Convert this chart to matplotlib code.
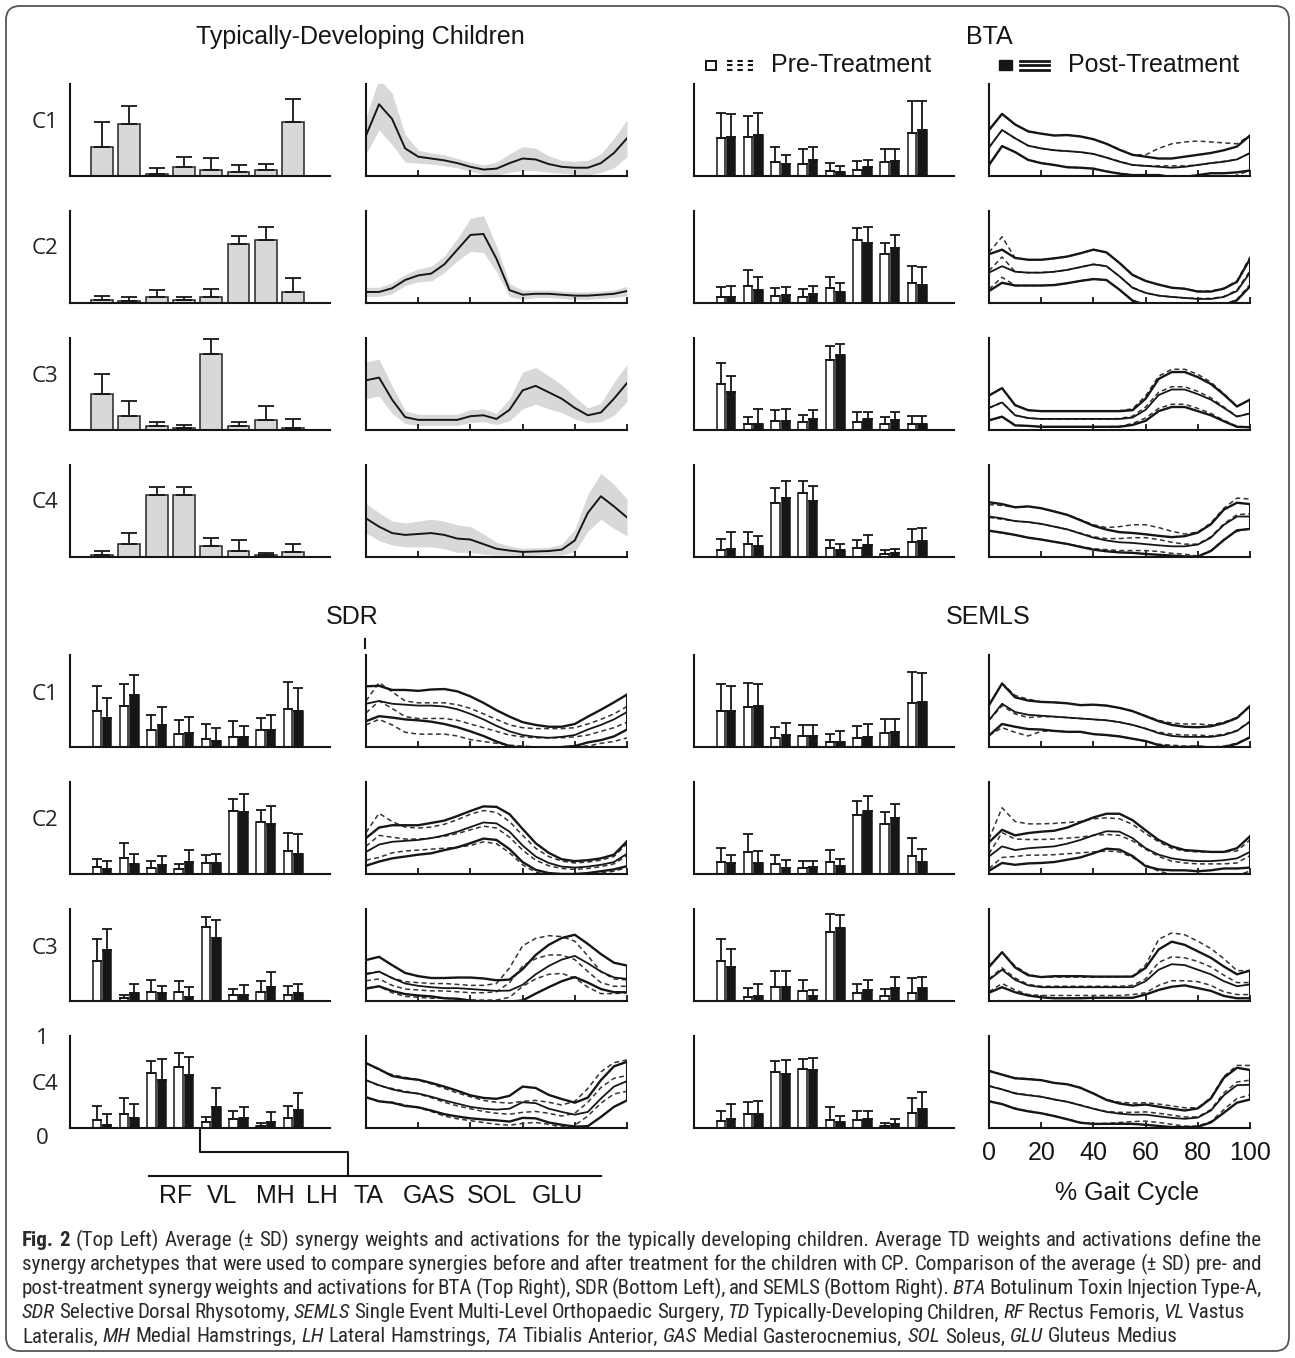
import numpy as np
import matplotlib.pyplot as plt
from matplotlib import font_manager
from matplotlib.patches import FancyBboxPatch, Rectangle

# ---------------- data ----------------
muscles = ['RF', 'VL', 'MH', 'LH', 'TA', 'GAS', 'SOL', 'GLU']
synergies = ['C1', 'C2', 'C3', 'C4']
gait_pct = [0, 5, 10, 15, 20, 25, 30, 35, 40, 45, 50,
            55, 60, 65, 70, 75, 80, 85, 90, 95, 100]

# synergy weights (mean, SD) per synergy C1..C4, muscles RF..GLU
td_w = [[0.32, 0.56, 0.02, 0.10, 0.07, 0.04, 0.06, 0.59],
        [0.03, 0.02, 0.065, 0.03, 0.07, 0.64, 0.68, 0.12],
        [0.39, 0.15, 0.04, 0.02, 0.83, 0.04, 0.11, 0.025],
        [0.02, 0.14, 0.67, 0.67, 0.12, 0.066, 0.02, 0.05]]
td_w_sd = [[0.27, 0.20, 0.07, 0.11, 0.13, 0.08, 0.07, 0.25],
           [0.05, 0.05, 0.075, 0.04, 0.08, 0.09, 0.15, 0.15],
           [0.22, 0.17, 0.05, 0.035, 0.16, 0.05, 0.15, 0.095],
           [0.046, 0.12, 0.09, 0.09, 0.09, 0.114, 0.024, 0.09]]

bta_w_pre = [[0.41, 0.42, 0.155, 0.13, 0.058, 0.07, 0.155, 0.47],
             [0.06, 0.18, 0.077, 0.06, 0.165, 0.69, 0.53, 0.22],
             [0.50, 0.06, 0.095, 0.087, 0.76, 0.084, 0.07, 0.065],
             [0.08, 0.145, 0.59, 0.70, 0.095, 0.10, 0.036, 0.16]]
bta_w_pre_sd = [[0.28, 0.23, 0.155, 0.16, 0.082, 0.09, 0.135, 0.35],
                [0.11, 0.18, 0.088, 0.09, 0.115, 0.13, 0.12, 0.18],
                [0.23, 0.085, 0.125, 0.073, 0.15, 0.116, 0.075, 0.085],
                [0.12, 0.125, 0.155, 0.13, 0.095, 0.08, 0.044, 0.14]]
bta_w_post = [[0.42, 0.45, 0.126, 0.17, 0.04, 0.094, 0.16, 0.50],
              [0.066, 0.14, 0.088, 0.10, 0.12, 0.65, 0.60, 0.195],
              [0.41, 0.07, 0.10, 0.116, 0.81, 0.116, 0.105, 0.07],
              [0.087, 0.116, 0.64, 0.61, 0.08, 0.13, 0.044, 0.17]]
bta_w_post_sd = [[0.25, 0.23, 0.104, 0.15, 0.07, 0.076, 0.13, 0.32],
                 [0.114, 0.14, 0.082, 0.09, 0.10, 0.18, 0.14, 0.195],
                 [0.18, 0.155, 0.125, 0.104, 0.13, 0.084, 0.095, 0.08],
                 [0.183, 0.109, 0.19, 0.16, 0.065, 0.11, 0.043, 0.15]]

sdr_w_pre = [[0.39, 0.45, 0.18, 0.14, 0.09, 0.114, 0.18, 0.41],
             [0.076, 0.17, 0.065, 0.054, 0.12, 0.68, 0.57, 0.25],
             [0.44, 0.03, 0.10, 0.10, 0.80, 0.06, 0.10, 0.06],
             [0.084, 0.156, 0.60, 0.658, 0.062, 0.095, 0.025, 0.11]]
sdr_w_pre_sd = [[0.27, 0.24, 0.17, 0.15, 0.16, 0.172, 0.14, 0.30],
                [0.084, 0.17, 0.075, 0.051, 0.09, 0.14, 0.13, 0.20],
                [0.23, 0.036, 0.13, 0.12, 0.11, 0.07, 0.116, 0.105],
                [0.152, 0.171, 0.127, 0.162, 0.058, 0.09, 0.033, 0.126]]
sdr_w_post = [[0.32, 0.57, 0.24, 0.157, 0.06, 0.114, 0.19, 0.39],
              [0.058, 0.11, 0.10, 0.13, 0.12, 0.675, 0.54, 0.22],
              [0.55, 0.09, 0.09, 0.048, 0.685, 0.066, 0.157, 0.084],
              [0.036, 0.11, 0.527, 0.58, 0.225, 0.11, 0.065, 0.20]]
sdr_w_post_sd = [[0.21, 0.21, 0.20, 0.168, 0.15, 0.116, 0.16, 0.25],
                 [0.082, 0.11, 0.10, 0.13, 0.10, 0.195, 0.20, 0.21],
                 [0.23, 0.10, 0.075, 0.109, 0.195, 0.11, 0.153, 0.103],
                 [0.12, 0.15, 0.223, 0.19, 0.215, 0.12, 0.11, 0.18]]

semls_w_pre = [[0.39, 0.44, 0.10, 0.12, 0.054, 0.10, 0.157, 0.48],
               [0.126, 0.24, 0.105, 0.07, 0.134, 0.646, 0.54, 0.195],
               [0.43, 0.044, 0.153, 0.113, 0.755, 0.09, 0.058, 0.088],
               [0.076, 0.153, 0.61, 0.64, 0.084, 0.084, 0.025, 0.164]]
semls_w_pre_sd = [[0.30, 0.26, 0.12, 0.12, 0.086, 0.13, 0.143, 0.33],
                  [0.154, 0.19, 0.105, 0.07, 0.126, 0.144, 0.135, 0.195],
                  [0.24, 0.096, 0.172, 0.117, 0.195, 0.09, 0.072, 0.157],
                  [0.114, 0.127, 0.117, 0.11, 0.146, 0.101, 0.033, 0.163]]
semls_w_post = [[0.39, 0.45, 0.13, 0.118, 0.054, 0.114, 0.168, 0.486],
                [0.116, 0.12, 0.07, 0.076, 0.09, 0.69, 0.61, 0.134],
                [0.37, 0.058, 0.15, 0.055, 0.79, 0.12, 0.142, 0.14],
                [0.10, 0.153, 0.59, 0.63, 0.062, 0.10, 0.044, 0.21]]
semls_w_post_sd = [[0.27, 0.24, 0.13, 0.122, 0.116, 0.136, 0.132, 0.314],
                   [0.094, 0.13, 0.08, 0.064, 0.07, 0.155, 0.155, 0.136],
                   [0.19, 0.122, 0.175, 0.069, 0.14, 0.11, 0.118, 0.12],
                   [0.16, 0.142, 0.15, 0.13, 0.065, 0.09, 0.056, 0.18]]

# activation profiles (mean, SD) over the gait cycle
td_act = [[0.44, 0.78, 0.62, 0.30, 0.21, 0.19, 0.17, 0.14, 0.10, 0.07, 0.08, 0.14, 0.19, 0.18, 0.13, 0.10, 0.09, 0.09, 0.14, 0.25, 0.41],
          [0.12, 0.12, 0.16, 0.25, 0.30, 0.32, 0.42, 0.58, 0.74, 0.75, 0.48, 0.14, 0.09, 0.10, 0.10, 0.09, 0.08, 0.08, 0.09, 0.10, 0.13],
          [0.54, 0.57, 0.33, 0.14, 0.11, 0.11, 0.11, 0.11, 0.15, 0.16, 0.12, 0.22, 0.43, 0.48, 0.41, 0.34, 0.24, 0.16, 0.19, 0.34, 0.51],
          [0.42, 0.33, 0.26, 0.24, 0.25, 0.26, 0.24, 0.20, 0.19, 0.14, 0.09, 0.07, 0.055, 0.06, 0.065, 0.08, 0.18, 0.48, 0.66, 0.55, 0.43]]
td_act_sd = [[0.20, 0.28, 0.28, 0.15, 0.07, 0.06, 0.06, 0.05, 0.05, 0.05, 0.07, 0.10, 0.13, 0.12, 0.09, 0.07, 0.07, 0.08, 0.10, 0.16, 0.20],
             [0.05, 0.05, 0.06, 0.06, 0.07, 0.08, 0.09, 0.12, 0.18, 0.20, 0.14, 0.07, 0.05, 0.04, 0.04, 0.04, 0.04, 0.04, 0.04, 0.04, 0.05],
             [0.20, 0.20, 0.15, 0.07, 0.06, 0.06, 0.06, 0.06, 0.07, 0.07, 0.06, 0.12, 0.20, 0.20, 0.18, 0.15, 0.12, 0.08, 0.10, 0.18, 0.20],
             [0.16, 0.15, 0.13, 0.13, 0.14, 0.15, 0.15, 0.15, 0.14, 0.11, 0.07, 0.05, 0.04, 0.04, 0.04, 0.06, 0.12, 0.20, 0.25, 0.24, 0.20]]

bta_act_pre = [[0.31, 0.50, 0.41, 0.33, 0.30, 0.28, 0.27, 0.26, 0.24, 0.20, 0.16, 0.12, 0.11, 0.11, 0.11, 0.11, 0.12, 0.14, 0.16, 0.18, 0.25],
               [0.35, 0.50, 0.34, 0.33, 0.33, 0.34, 0.36, 0.39, 0.42, 0.40, 0.29, 0.17, 0.11, 0.08, 0.066, 0.055, 0.05, 0.05, 0.07, 0.14, 0.35],
               [0.24, 0.30, 0.16, 0.13, 0.12, 0.12, 0.12, 0.12, 0.12, 0.12, 0.125, 0.15, 0.25, 0.41, 0.47, 0.47, 0.42, 0.35, 0.25, 0.15, 0.18],
               [0.43, 0.41, 0.39, 0.38, 0.36, 0.33, 0.30, 0.26, 0.22, 0.20, 0.20, 0.21, 0.21, 0.19, 0.16, 0.14, 0.14, 0.22, 0.36, 0.46, 0.47]]
bta_act_pre_sd = [[0.19, 0.175, 0.15, 0.155, 0.16, 0.16, 0.175, 0.17, 0.16, 0.15, 0.13, 0.11, 0.12, 0.19, 0.24, 0.26, 0.26, 0.23, 0.20, 0.17, 0.19],
                  [0.20, 0.22, 0.15, 0.14, 0.14, 0.145, 0.145, 0.15, 0.16, 0.15, 0.145, 0.14, 0.13, 0.12, 0.10, 0.10, 0.08, 0.08, 0.09, 0.10, 0.15],
                  [0.135, 0.155, 0.11, 0.085, 0.085, 0.085, 0.085, 0.085, 0.085, 0.085, 0.085, 0.08, 0.12, 0.175, 0.19, 0.19, 0.185, 0.17, 0.145, 0.11, 0.15],
                  [0.14, 0.15, 0.15, 0.17, 0.17, 0.165, 0.158, 0.145, 0.13, 0.12, 0.13, 0.14, 0.14, 0.13, 0.12, 0.11, 0.13, 0.15, 0.17, 0.18, 0.16]]
bta_act_post = [[0.31, 0.50, 0.41, 0.33, 0.30, 0.28, 0.27, 0.26, 0.24, 0.20, 0.155, 0.12, 0.11, 0.10, 0.09, 0.10, 0.12, 0.14, 0.155, 0.18, 0.25],
                [0.33, 0.40, 0.34, 0.33, 0.33, 0.34, 0.36, 0.39, 0.42, 0.40, 0.29, 0.165, 0.11, 0.08, 0.066, 0.055, 0.044, 0.044, 0.066, 0.13, 0.33],
                [0.24, 0.30, 0.16, 0.13, 0.12, 0.12, 0.12, 0.12, 0.12, 0.12, 0.12, 0.135, 0.22, 0.38, 0.44, 0.44, 0.39, 0.33, 0.24, 0.145, 0.18],
                [0.44, 0.42, 0.39, 0.38, 0.36, 0.33, 0.30, 0.255, 0.21, 0.18, 0.16, 0.153, 0.14, 0.127, 0.116, 0.116, 0.135, 0.21, 0.35, 0.44, 0.44]]
bta_act_post_sd = [[0.19, 0.175, 0.15, 0.155, 0.16, 0.16, 0.175, 0.17, 0.16, 0.15, 0.13, 0.11, 0.10, 0.09, 0.10, 0.11, 0.11, 0.11, 0.125, 0.14, 0.19],
                   [0.20, 0.18, 0.15, 0.14, 0.14, 0.145, 0.145, 0.15, 0.16, 0.15, 0.145, 0.14, 0.13, 0.12, 0.10, 0.10, 0.08, 0.08, 0.09, 0.10, 0.15],
                   [0.135, 0.155, 0.11, 0.085, 0.085, 0.085, 0.085, 0.085, 0.085, 0.085, 0.085, 0.08, 0.12, 0.175, 0.19, 0.19, 0.185, 0.17, 0.145, 0.11, 0.15],
                   [0.155, 0.155, 0.15, 0.17, 0.17, 0.165, 0.158, 0.145, 0.13, 0.118, 0.11, 0.108, 0.107, 0.103, 0.10, 0.11, 0.13, 0.145, 0.165, 0.15, 0.135]]

sdr_act_pre = [[0.37, 0.50, 0.42, 0.33, 0.31, 0.31, 0.31, 0.29, 0.25, 0.21, 0.17, 0.13, 0.11, 0.10, 0.10, 0.10, 0.11, 0.13, 0.17, 0.21, 0.27],
               [0.30, 0.42, 0.40, 0.38, 0.38, 0.39, 0.41, 0.44, 0.48, 0.52, 0.50, 0.40, 0.26, 0.15, 0.09, 0.06, 0.05, 0.06, 0.08, 0.11, 0.20],
               [0.22, 0.24, 0.17, 0.13, 0.12, 0.11, 0.11, 0.10, 0.09, 0.09, 0.10, 0.20, 0.38, 0.46, 0.50, 0.50, 0.45, 0.32, 0.20, 0.16, 0.16],
               [0.52, 0.46, 0.43, 0.40, 0.37, 0.33, 0.28, 0.24, 0.21, 0.18, 0.16, 0.15, 0.17, 0.18, 0.16, 0.13, 0.16, 0.28, 0.44, 0.54, 0.57]]
sdr_act_pre_sd = [[0.13, 0.20, 0.18, 0.17, 0.17, 0.17, 0.17, 0.17, 0.17, 0.15, 0.13, 0.11, 0.10, 0.10, 0.10, 0.10, 0.10, 0.12, 0.13, 0.15, 0.17],
                  [0.15, 0.24, 0.17, 0.13, 0.12, 0.12, 0.13, 0.15, 0.17, 0.17, 0.17, 0.17, 0.16, 0.13, 0.10, 0.08, 0.07, 0.07, 0.07, 0.08, 0.13],
                  [0.08, 0.08, 0.08, 0.08, 0.08, 0.08, 0.08, 0.08, 0.08, 0.08, 0.09, 0.16, 0.22, 0.22, 0.21, 0.20, 0.20, 0.17, 0.12, 0.08, 0.07],
                  [0.19, 0.17, 0.15, 0.15, 0.15, 0.15, 0.15, 0.14, 0.13, 0.12, 0.12, 0.12, 0.12, 0.12, 0.12, 0.12, 0.13, 0.15, 0.17, 0.17, 0.17]]
sdr_act_post = [[0.47, 0.50, 0.47, 0.46, 0.45, 0.45, 0.44, 0.41, 0.36, 0.30, 0.23, 0.17, 0.13, 0.11, 0.10, 0.11, 0.13, 0.19, 0.24, 0.30, 0.38],
                [0.24, 0.32, 0.35, 0.36, 0.37, 0.39, 0.42, 0.46, 0.51, 0.56, 0.55, 0.46, 0.31, 0.19, 0.12, 0.08, 0.07, 0.08, 0.10, 0.13, 0.22],
                [0.29, 0.32, 0.25, 0.19, 0.165, 0.15, 0.14, 0.14, 0.13, 0.12, 0.11, 0.113, 0.176, 0.29, 0.38, 0.45, 0.49, 0.41, 0.32, 0.256, 0.24],
                [0.52, 0.465, 0.42, 0.39, 0.375, 0.34, 0.30, 0.265, 0.23, 0.21, 0.20, 0.21, 0.28, 0.27, 0.21, 0.175, 0.145, 0.175, 0.32, 0.45, 0.51]]
sdr_act_post_sd = [[0.19, 0.165, 0.15, 0.16, 0.16, 0.175, 0.19, 0.195, 0.19, 0.18, 0.17, 0.16, 0.14, 0.13, 0.12, 0.11, 0.12, 0.14, 0.165, 0.185, 0.19],
                   [0.15, 0.185, 0.18, 0.17, 0.16, 0.165, 0.16, 0.17, 0.175, 0.175, 0.18, 0.19, 0.18, 0.145, 0.11, 0.08, 0.07, 0.07, 0.07, 0.08, 0.135],
                   [0.155, 0.16, 0.14, 0.115, 0.105, 0.10, 0.11, 0.115, 0.125, 0.125, 0.115, 0.12, 0.17, 0.21, 0.23, 0.235, 0.23, 0.21, 0.19, 0.16, 0.145],
                   [0.185, 0.175, 0.145, 0.15, 0.15, 0.15, 0.15, 0.14, 0.125, 0.117, 0.117, 0.14, 0.17, 0.165, 0.15, 0.14, 0.13, 0.155, 0.20, 0.22, 0.21]]

semls_act_pre = [[0.29, 0.45, 0.36, 0.32, 0.33, 0.33, 0.32, 0.31, 0.30, 0.29, 0.27, 0.24, 0.20, 0.16, 0.14, 0.13, 0.13, 0.12, 0.14, 0.18, 0.28],
                 [0.22, 0.45, 0.38, 0.375, 0.375, 0.38, 0.39, 0.40, 0.42, 0.43, 0.42, 0.36, 0.27, 0.19, 0.14, 0.12, 0.11, 0.11, 0.11, 0.12, 0.20],
                 [0.24, 0.36, 0.25, 0.18, 0.16, 0.16, 0.16, 0.16, 0.16, 0.16, 0.16, 0.17, 0.24, 0.42, 0.48, 0.47, 0.43, 0.37, 0.28, 0.20, 0.20],
                 [0.46, 0.42, 0.38, 0.36, 0.34, 0.31, 0.285, 0.25, 0.21, 0.18, 0.17, 0.17, 0.175, 0.16, 0.14, 0.12, 0.12, 0.20, 0.38, 0.50, 0.52]]
semls_act_pre_sd = [[0.165, 0.24, 0.20, 0.20, 0.16, 0.155, 0.155, 0.145, 0.16, 0.16, 0.155, 0.15, 0.14, 0.13, 0.12, 0.12, 0.12, 0.12, 0.13, 0.14, 0.17],
                    [0.16, 0.27, 0.19, 0.17, 0.17, 0.17, 0.17, 0.17, 0.18, 0.18, 0.18, 0.18, 0.17, 0.16, 0.14, 0.13, 0.13, 0.13, 0.13, 0.13, 0.17],
                    [0.14, 0.17, 0.13, 0.11, 0.10, 0.10, 0.10, 0.10, 0.10, 0.10, 0.10, 0.10, 0.15, 0.25, 0.26, 0.25, 0.22, 0.20, 0.18, 0.13, 0.13],
                    [0.165, 0.16, 0.165, 0.175, 0.18, 0.18, 0.19, 0.19, 0.165, 0.13, 0.11, 0.10, 0.10, 0.10, 0.10, 0.10, 0.10, 0.13, 0.18, 0.18, 0.16]]
semls_act_post = [[0.29, 0.47, 0.38, 0.35, 0.34, 0.33, 0.32, 0.31, 0.30, 0.29, 0.27, 0.24, 0.20, 0.15, 0.12, 0.11, 0.11, 0.11, 0.13, 0.175, 0.275],
                  [0.19, 0.30, 0.26, 0.28, 0.29, 0.30, 0.33, 0.37, 0.42, 0.465, 0.46, 0.39, 0.28, 0.21, 0.17, 0.15, 0.14, 0.14, 0.15, 0.17, 0.24],
                  [0.23, 0.34, 0.23, 0.17, 0.15, 0.15, 0.15, 0.15, 0.15, 0.15, 0.15, 0.15, 0.215, 0.34, 0.40, 0.39, 0.34, 0.29, 0.215, 0.16, 0.18],
                  [0.455, 0.42, 0.375, 0.356, 0.34, 0.31, 0.285, 0.247, 0.21, 0.175, 0.156, 0.145, 0.145, 0.127, 0.11, 0.10, 0.113, 0.19, 0.356, 0.465, 0.47]]
semls_act_post_sd = [[0.165, 0.22, 0.16, 0.155, 0.15, 0.155, 0.155, 0.145, 0.16, 0.16, 0.155, 0.15, 0.135, 0.13, 0.12, 0.11, 0.105, 0.115, 0.13, 0.14, 0.17],
                     [0.155, 0.18, 0.16, 0.165, 0.17, 0.17, 0.175, 0.19, 0.195, 0.19, 0.195, 0.195, 0.195, 0.16, 0.13, 0.11, 0.11, 0.10, 0.09, 0.11, 0.17],
                     [0.14, 0.19, 0.135, 0.11, 0.11, 0.12, 0.12, 0.12, 0.115, 0.115, 0.115, 0.115, 0.145, 0.22, 0.245, 0.22, 0.20, 0.18, 0.16, 0.13, 0.15],
                     [0.165, 0.16, 0.165, 0.175, 0.18, 0.18, 0.19, 0.19, 0.165, 0.13, 0.11, 0.10, 0.11, 0.105, 0.10, 0.09, 0.10, 0.13, 0.19, 0.19, 0.16]]

# ---------------- figure ----------------
W, H = 1295, 1358
fig = plt.figure(figsize=(W / 100, H / 100), dpi=100)
INK = '#161616'
SANS = 'Liberation Sans'
ROWFONT = ['Open Sans', 'DejaVu Sans']
bar_x = np.arange(1, len(muscles) + 1)


def px_axes(x0, x1, y_bot, h=92):
    ax = fig.add_axes([x0 / W, 1 - y_bot / H, (x1 - x0) / W, h / H])
    ax.patch.set_alpha(0)
    for s in ['top', 'right']:
        ax.spines[s].set_visible(False)
    for s in ['left', 'bottom']:
        ax.spines[s].set_linewidth(1.5)
        ax.spines[s].set_color(INK)
    ax.set_ylim(0, 1)
    ax.set_yticks([])
    return ax


def weights_td(ax, w, sd):
    ax.bar(bar_x, w, width=0.8, color='#d8d8d8', edgecolor='#262626', linewidth=1.1)
    ax.errorbar(bar_x, w, yerr=[np.zeros(len(w)), sd], fmt='none', ecolor=INK,
                elinewidth=1.3, capsize=6, capthick=1.3)


def weights_cp(ax, pre, pre_sd, post, post_sd):
    for off, m, s, fc in [(-0.19, pre, pre_sd, 'white'), (0.19, post, post_sd, INK)]:
        ax.bar(bar_x + off, m, width=0.31, color=fc, edgecolor=INK, linewidth=1.1)
        ax.errorbar(bar_x + off, m, yerr=[np.zeros(len(m)), s], fmt='none', ecolor=INK,
                    elinewidth=1.3, capsize=3.6, capthick=1.3)


def act_td(ax, m, s):
    m, s = np.array(m), np.array(s)
    ax.fill_between(gait_pct, m - s, m + s, color='#d8d8d8', lw=0)
    ax.plot(gait_pct, m, color=INK, lw=1.4)


def act_cp(ax, pre, pre_sd, post, post_sd):
    pre, pre_sd = np.array(pre), np.array(pre_sd)
    post, post_sd = np.array(post), np.array(post_sd)
    for band in (pre - pre_sd, pre, pre + pre_sd):
        ax.plot(gait_pct, band, color='#333333', lw=1.1, ls=(0, (3.2, 2.2)))
    ax.plot(gait_pct, post, color=INK, lw=1.3)
    ax.plot(gait_pct, post + post_sd, color=INK, lw=1.7)
    ax.plot(gait_pct, post - post_sd, color=INK, lw=1.7)
    ax.plot([gait_pct[-1]] * 2, [post[-1] - post_sd[-1], post[-1] + post_sd[-1]],
            color=INK, lw=1.5)


groups = [
    ('td', 70, 330, 366, 627, [176, 303, 430, 557]),
    ('bta', 694, 954, 989, 1250, [176, 303, 430, 557]),
    ('sdr', 70, 330, 366, 627, [747, 874, 1001, 1128]),
    ('semls', 694, 954, 989, 1250, [747, 874, 1001, 1128]),
]
data = globals()

for name, bx0, bx1, cx0, cx1, rows in groups:
    for k, yb in enumerate(rows):
        axb = px_axes(bx0, bx1, yb)
        axb.set_xlim(-0.17, 9.35)
        axb.set_xticks([])
        axc = px_axes(cx0, cx1, yb)
        axc.set_xlim(0, 100)
        axc.set_xticks(range(0, 101, 20))
        axc.tick_params(axis='x', direction='in', length=4, width=1.3, color=INK,
                        labelbottom=False)
        if name == 'td':
            weights_td(axb, td_w[k], td_w_sd[k])
            act_td(axc, td_act[k], td_act_sd[k])
        else:
            weights_cp(axb, data[name + '_w_pre'][k], data[name + '_w_pre_sd'][k],
                       data[name + '_w_post'][k], data[name + '_w_post_sd'][k])
            act_cp(axc, data[name + '_act_pre'][k], data[name + '_act_pre_sd'][k],
                   data[name + '_act_post'][k], data[name + '_act_post_sd'][k])
        if name == 'semls' and k == 3:
            axc.tick_params(axis='x', labelbottom=True, labelsize=18, pad=9,
                            labelcolor=INK, labelfontfamily=SANS)

# ---------------- annotations in pixel space ----------------
ov = fig.add_axes([0, 0, 1, 1])
ov.set_xlim(0, W)
ov.set_ylim(H, 0)
ov.axis('off')

ov.add_patch(FancyBboxPatch((6, 6), W - 12, H - 13,
                            boxstyle='round,pad=0,rounding_size=14',
                            fc='none', ec='#555555', lw=1.3))

txt = dict(color=INK, family=SANS, fontsize=18, va='center')
ov.text(360, 37, 'Typically-Developing Children', ha='center', **txt)
ov.text(989, 37, 'BTA', ha='center', **txt)
ov.text(352, 617, 'SDR', ha='center', **txt)
ov.text(988, 617, 'SEMLS', ha='center', **txt)
ov.text(771, 65, 'Pre-Treatment', ha='left', **txt)
ov.text(1068, 65, 'Post-Treatment', ha='left', **txt)
ov.text(1127, 1193, '% Gait Cycle', ha='center', **txt)

# legend glyphs
ov.add_patch(Rectangle((706, 61), 10, 9, fc='white', ec=INK, lw=1.4))
ov.add_patch(Rectangle((999, 60), 13, 10, fc=INK, ec=INK, lw=1))
for yy in (60.5, 65, 69.5):
    ov.plot([727, 753], [yy, yy], color=INK, lw=1.5, ls=(0, (2.6, 2.4)))
    ov.plot([1020, 1049], [yy, yy], color=INK, lw=2.0)

# synergy row labels
for rows, offs in [([176, 303, 430, 557], [-54] * 4), ([747, 874, 1001, 1128], [-53, -53, -53, -44])]:
    for lab, yb, o in zip(synergies, rows, offs):
        ov.text(45, yb + o, lab, ha='center', va='center', fontsize=16,
                color='#222222', family=ROWFONT)
ov.text(42, 1038, '1', ha='center', va='center', fontsize=16, color='#222222', family=ROWFONT)
ov.text(42, 1138, '0', ha='center', va='center', fontsize=16, color='#222222', family=ROWFONT)

# muscle key bracket
ov.plot([200, 200, 348, 348], [1130, 1152, 1152, 1176], color=INK, lw=1.5)
ov.plot([149, 601], [1176, 1176], color=INK, lw=1.5)
for lab, xc in zip(muscles, [176, 222, 275, 322, 368, 429, 492, 557]):
    ov.text(xc, 1196, lab, ha='center', **txt)
ov.plot([365, 365], [639, 648], color=INK, lw=1.5)

# ---------------- caption ----------------
names = {f.name for f in font_manager.fontManager.ttflist}
cap_font = next((n for n in ['Liberation Sans Narrow', 'Roboto Condensed',
                             'Open Sans Condensed'] if n in names), 'Liberation Sans')
STYLE = {'n': {}, 'b': {'weight': 'bold'}, 'i': {'style': 'italic'}}
caption = [
    [('b', 'Fig. 2'), ('n', '(Top Left) Average (± SD) synergy weights and activations for the typically developing children. Average TD weights and activations define the')],
    [('n', 'synergy archetypes that were used to compare synergies before and after treatment for the children with CP. Comparison of the average (± SD) pre- and')],
    [('n', 'post-treatment synergy weights and activations for BTA (Top Right), SDR (Bottom Left), and SEMLS (Bottom Right).'),
     ('i', 'BTA'), ('n', 'Botulinum Toxin Injection Type-A,')],
    [('i', 'SDR'), ('n', 'Selective Dorsal Rhysotomy,'), ('i', 'SEMLS'), ('n', 'Single Event Multi-Level Orthopaedic Surgery,'),
     ('i', 'TD'), ('n', 'Typically-Developing Children,'), ('i', 'RF'), ('n', 'Rectus Femoris,'), ('i', 'VL'), ('n', 'Vastus')],
    [('n', 'Lateralis,'), ('i', 'MH'), ('n', 'Medial Hamstrings,'), ('i', 'LH'), ('n', 'Lateral Hamstrings,'),
     ('i', 'TA'), ('n', 'Tibialis Anterior,'), ('i', 'GAS'), ('n', 'Medial Gasterocnemius,'), ('i', 'SOL'),
     ('n', 'Soleus,'), ('i', 'GLU'), ('n', 'Gluteus Medius')],
]
renderer = fig.canvas.get_renderer()


def text_w(s, kind, size):
    t = ov.text(0, 0, s, fontsize=size, family=cap_font, **STYLE[kind])
    w = t.get_window_extent(renderer).width
    t.remove()
    return w


cap_words = [[(w, kind) for kind, seg in line for w in seg.split()] for line in caption]
base = 12
space = text_w('n n', 'n', base) - text_w('nn', 'n', base)
natural = sum(text_w(w, k, base) for w, k in cap_words[0]) + space * (len(cap_words[0]) - 1)
cap_size = base * 1222 / natural
space *= cap_size / base

targets = [1240, 1240, 1240, 1223, None]
for li, (words, yy) in enumerate(zip(cap_words, [1240, 1264, 1288, 1313, 1337])):
    widths = [text_w(w, k, cap_size) for w, k in words]
    gap = space if targets[li] is None else (targets[li] - sum(widths)) / (len(words) - 1)
    x = 22
    for (w, k), ww in zip(words, widths):
        ov.text(x, yy, w, fontsize=cap_size, family=cap_font, color='#2a2a2a',
                va='center', ha='left', **STYLE[k])
        x += ww + gap

fig.savefig('out.png', dpi=100)
